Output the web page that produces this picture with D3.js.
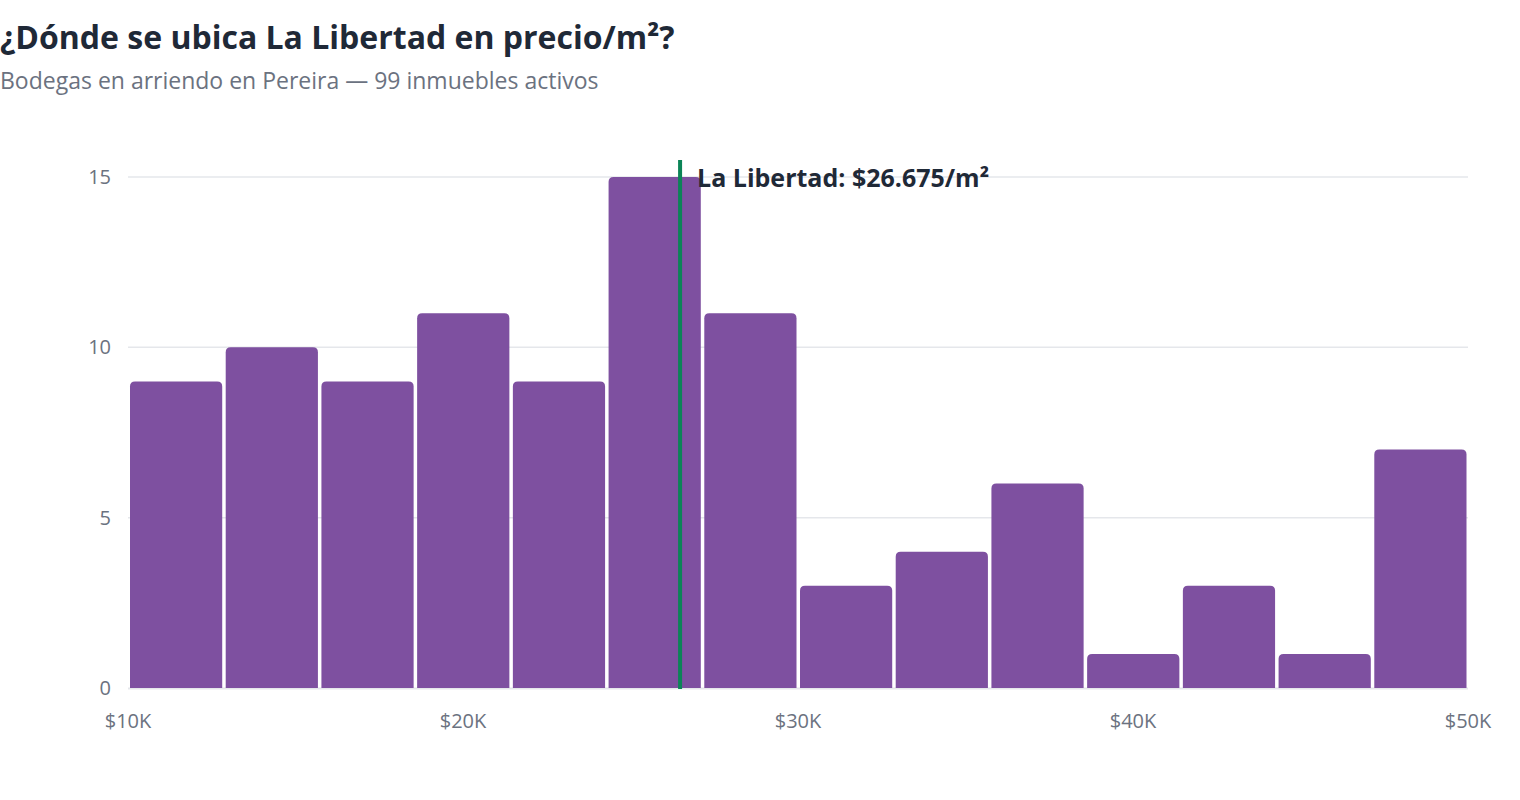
<!DOCTYPE html>
<html><head><meta charset="utf-8">
<script src="https://cdn.jsdelivr.net/npm/d3@7"></script>
<style>
body{margin:0;background:#fff;}
svg{display:block;font-family:"Open Sans","Noto Sans",sans-serif;}
</style></head>
<body>
<svg id="chart" width="1520" height="800"></svg>
<script>
const titleText = "¿Dónde se ubica La Libertad en precio/m²?";
const subtitleText = "Bodegas en arriendo en Pereira — 99 inmuebles activos";
const binStarts = [10000,12857,15714,18571,21429,24286,27143,30000,32857,35714,38571,41429,44286,47143];
const binEnds   = [12857,15714,18571,21429,24286,27143,30000,32857,35714,38571,41429,44286,47143,50000];
const counts    = [9,10,9,11,9,15,11,3,4,6,1,3,1,7];
const xTicks = [10000,20000,30000,40000,50000];
const xTickLabels = ["$10K","$20K","$30K","$40K","$50K"];
const yTicks = [0,5,10,15];
const markerPos = 26480;
const markerLabel = "La Libertad: $26.675/m²";

const svg = d3.select("#chart");
const x = d3.scaleLinear().domain([10000,50000]).range([128,1468]);
const y = d3.scaleLinear().domain([0,15.5]).range([688,160]);

svg.append("text").attr("x",0).attr("y",49).attr("font-size",32).attr("font-weight",700)
  .attr("fill","#1f2937").text(titleText);
svg.append("text").attr("x",0).attr("y",89).attr("font-size",23)
  .attr("fill","#6b7280").text(subtitleText);

// grid
svg.append("g").selectAll("line").data(yTicks.filter(d=>d>0)).join("line")
  .attr("x1",128).attr("x2",1468).attr("y1",d=>y(d)).attr("y2",d=>y(d))
  .attr("stroke","#e5e7eb").attr("stroke-width",1.5);
svg.append("line").attr("x1",128).attr("x2",1468).attr("y1",y(0)+0.5).attr("y2",y(0)+0.5)
  .attr("stroke","#e5e7eb").attr("stroke-width",2);

// y labels
svg.append("g").selectAll("text").data(yTicks).join("text")
  .attr("x",111).attr("y",d=>y(d)).attr("dy","0.35em").attr("text-anchor","end")
  .attr("font-size",20).attr("fill","#6b7280").text(d=>d);

// x labels
svg.append("g").selectAll("text").data(xTicks).join("text")
  .attr("x",d=>x(d)).attr("y",728).attr("text-anchor","middle")
  .attr("font-size",20).attr("fill","#6b7280").text((d,i)=>xTickLabels[i]);

// bars with rounded top corners
const r = 5;
function barPath(d,i){
  const x0 = x(binStarts[i])+2, x1 = x(binEnds[i])-1.5;
  const y0 = y(0), y1 = y(d);
  const rr = Math.min(r, (y0-y1));
  return `M${x0},${y0}V${y1+rr}Q${x0},${y1} ${x0+rr},${y1}H${x1-rr}Q${x1},${y1} ${x1},${y1+rr}V${y0}Z`;
}
svg.append("g").selectAll("path").data(counts).join("path")
  .attr("d",barPath).attr("fill","#7e50a0");

// marker
svg.append("line").attr("x1",x(markerPos)).attr("x2",x(markerPos)).attr("y1",160).attr("y2",689)
  .attr("stroke","#0b8457").attr("stroke-width",4);
svg.append("text").attr("x",x(markerPos)+17).attr("y",187).attr("font-size",25).attr("font-weight",700)
  .attr("fill","#1f2937").text(markerLabel);
</script>
</body></html>
